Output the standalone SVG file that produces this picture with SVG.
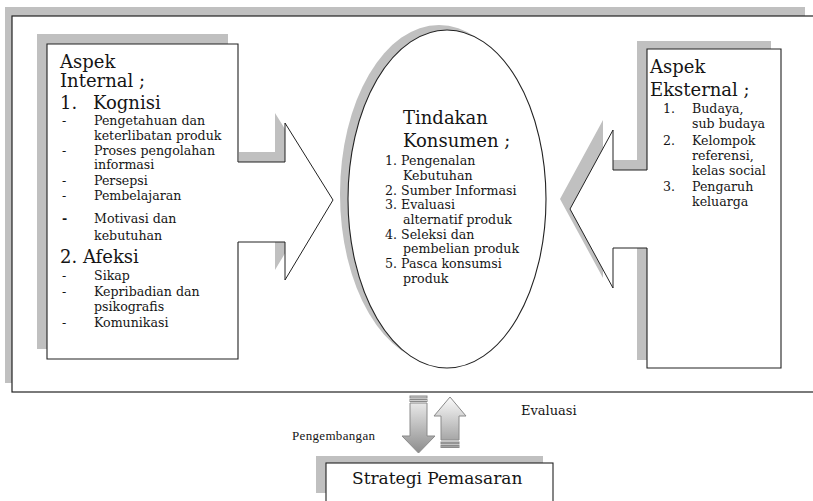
<svg xmlns="http://www.w3.org/2000/svg" width="813" height="501" viewBox="0 0 813 501">
<style>
.shadow{fill:#c0c0c0;stroke:none}
.box{fill:#fff;stroke:none}
.edge{fill:none;stroke:#222;stroke-width:1.1}
.arrow{fill:#fff;stroke:#222;stroke-width:1}
.t{font-family:"DejaVu Serif","Liberation Serif",serif;fill:#151515}
.lg{font-size:18px}
.sm{font-size:12.6px}
.lab{font-family:"Liberation Serif",serif;font-size:13px;fill:#151515}
.varr{stroke:#8a8a8a;stroke-width:1}
</style>
<defs>
<linearGradient id="gDown" x1="0" y1="0" x2="0" y2="1"><stop offset="0" stop-color="#e8e8e8"/><stop offset="1" stop-color="#8c8c8c"/></linearGradient>
<linearGradient id="gUp" x1="0" y1="0" x2="0" y2="1"><stop offset="0" stop-color="#fbfbfb"/><stop offset="1" stop-color="#a6a6a6"/></linearGradient>
</defs>
<rect width="813" height="501" fill="#fff"/>

<g id="frame">
<rect class="shadow" x="5" y="7" width="800" height="376"/>
<rect x="12" y="16" width="803" height="376" fill="#fff" stroke="#222" stroke-width="1.2"/>
</g>

<g id="node-internal">
<rect class="shadow" x="37" y="34" width="191" height="315"/>
<rect class="box" x="47" y="44" width="191" height="315"/>
<path class="edge" d="M238,162 V44 H47 V359 H238 V242"/>
<text class="t lg" x="60" y="68">Aspek</text>
<text class="t lg" x="60" y="87">Internal ;</text>
<text class="t lg" x="60" y="109">1.</text>
<text class="t lg" x="93" y="109">Kognisi</text>
<g class="t sm">
<text x="62" y="125">-</text><text x="94" y="125">Pengetahuan dan</text>
<text x="94" y="140">keterlibatan produk</text>
<text x="62" y="155">-</text><text x="94" y="155">Proses pengolahan</text>
<text x="94" y="169">informasi</text>
<text x="62" y="185">-</text><text x="94" y="185">Persepsi</text>
<text x="62" y="200">-</text><text x="94" y="200">Pembelajaran</text>
<text x="62" y="223" font-weight="bold">-</text><text x="94" y="223">Motivasi dan</text>
<text x="94" y="240">kebutuhan</text>
</g>
<text class="t lg" x="60" y="263">2. Afeksi</text>
<g class="t sm">
<text x="62" y="280">-</text><text x="94" y="280">Sikap</text>
<text x="62" y="296">-</text><text x="94" y="296">Kepribadian dan</text>
<text x="94" y="311">psikografis</text>
<text x="62" y="327">-</text><text x="94" y="327">Komunikasi</text>
</g>
</g>

<g id="node-external">
<rect class="shadow" x="637" y="41" width="134" height="319"/>
<rect class="box" x="647" y="49" width="134" height="319"/>
<path class="edge" d="M647,170 V49 H781 V368 H647 V248"/>
<text class="t lg" x="650" y="73">Aspek</text>
<text class="t lg" x="650" y="96">Eksternal ;</text>
<g class="t sm">
<text x="663" y="113">1.</text><text x="692" y="113">Budaya,</text>
<text x="692" y="128">sub budaya</text>
<text x="663" y="145">2.</text><text x="692" y="145">Kelompok</text>
<text x="692" y="160">referensi,</text>
<text x="692" y="175">kelas social</text>
<text x="663" y="191">3.</text><text x="692" y="191">Pengaruh</text>
<text x="692" y="206">keluarga</text>
</g>
</g>

<g id="node-tindakan">
<ellipse class="shadow" cx="439" cy="194" rx="99" ry="169"/>
<ellipse cx="447" cy="199" rx="99" ry="169" fill="#fff" stroke="#222" stroke-width="1.1"/>
<text class="t lg" x="403" y="124">Tindakan</text>
<text class="t lg" x="403" y="147">Konsumen ;</text>
<g class="t sm">
<text x="385" y="165">1. Pengenalan</text>
<text x="403" y="180">Kebutuhan</text>
<text x="385" y="195">2. Sumber Informasi</text>
<text x="385" y="209">3. Evaluasi</text>
<text x="403" y="224">alternatif produk</text>
<text x="385" y="239">4. Seleksi  dan</text>
<text x="403" y="253">pembelian produk</text>
<text x="385" y="268">5. Pasca konsumsi</text>
<text x="403" y="283">produk</text>
</g>
</g>

<g id="node-strategi">
<rect class="shadow" x="316" y="456" width="227" height="37"/>
<rect x="326" y="463" width="227" height="42" fill="#fff" stroke="#222" stroke-width="1.1"/>
<text class="t" font-size="17" x="352" y="484">Strategi Pemasaran</text>
</g>

<g id="connectors">
<polygon class="shadow" points="239,152 275,152 275,113 323,190 275,270 275,232 239,232"/>
<path class="arrow" d="M238,162 H285 V123 L333,200 L285,280 V242 H238"/>
<polygon class="shadow" points="637,160 603,160 603,120 560,199 603,278 603,238 637,238"/>
<path class="arrow" d="M647,170 H613 V130 L570,209 L613,288 V248 H647"/>
<g class="varr">
<rect x="410" y="396" width="17" height="2" fill="#cfcfcf"/>
<rect x="410" y="399.5" width="17" height="2" fill="#cfcfcf"/>
<path d="M410,403 H427 V436 H435 L418.5,453 L402,436 H410 Z" fill="url(#gDown)"/>
<path d="M450,397 L466,416 H459 V440 H441 V416 H434 Z" fill="url(#gUp)"/>
<rect x="441" y="442" width="18" height="2" fill="#a0a0a0"/>
<rect x="441" y="445.5" width="18" height="2" fill="#a0a0a0"/>
</g>
<text class="lab" x="292" y="440" textLength="83">Pengembangan</text>
<text class="t" font-size="13" x="521" y="415">Evaluasi</text>
</g>
</svg>
